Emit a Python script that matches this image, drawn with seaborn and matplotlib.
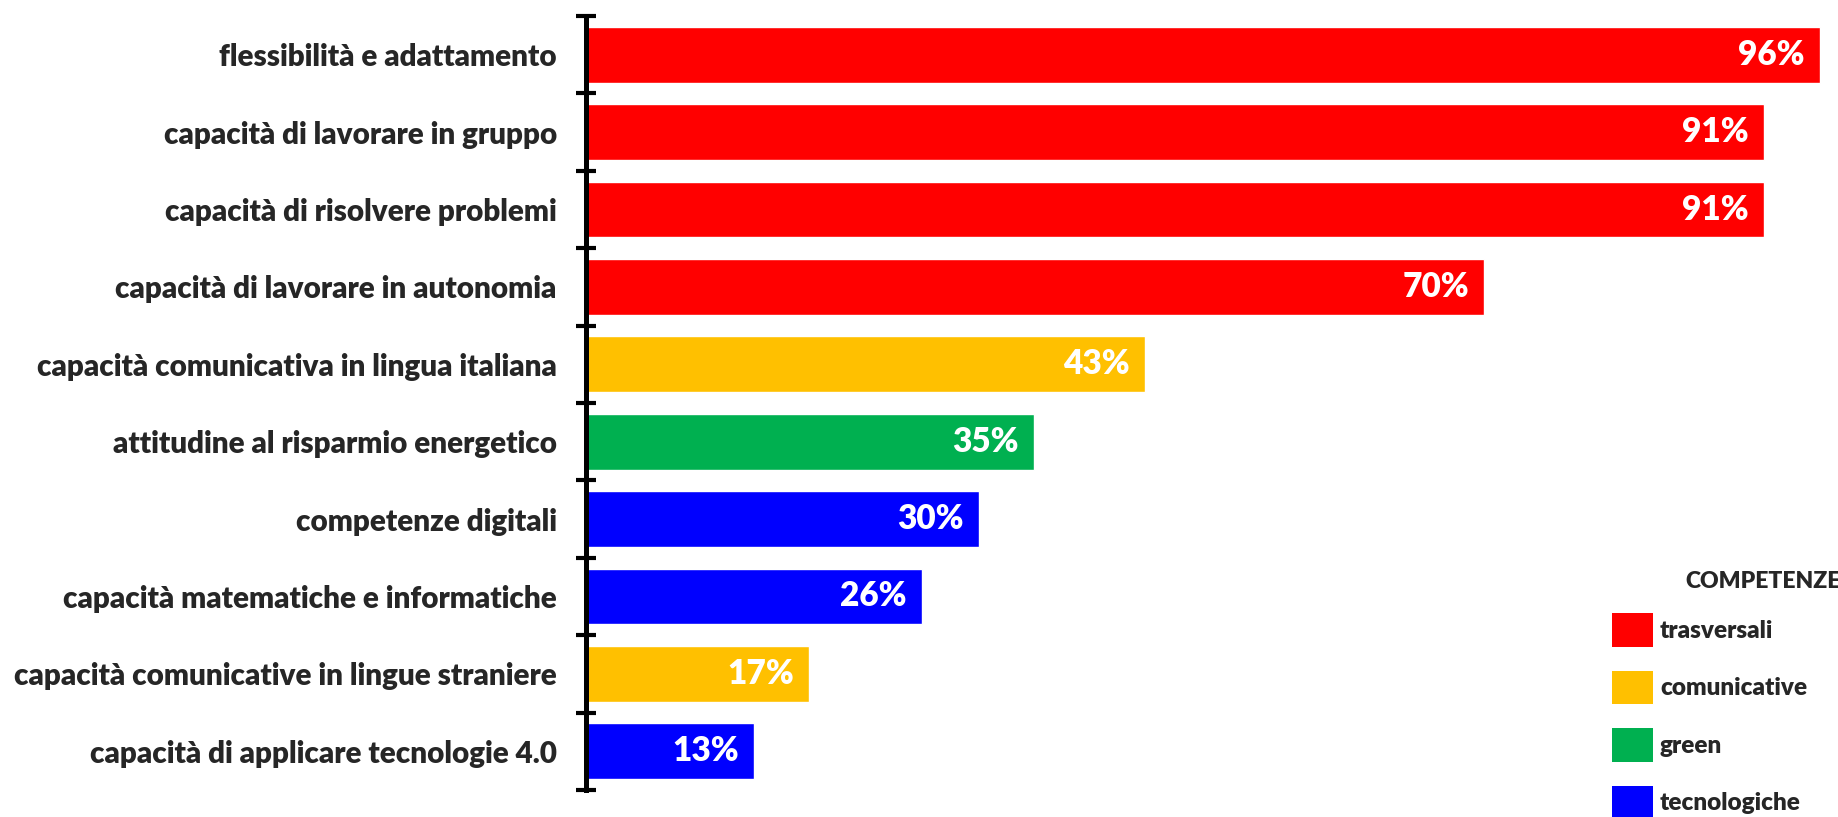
import matplotlib
matplotlib.use("Agg")
import matplotlib.pyplot as plt
from matplotlib.patches import Patch
import pandas as pd
import seaborn as sns

# Data (top to bottom)
skills = [
    "flessibilità e adattamento",
    "capacità di lavorare in gruppo",
    "capacità di risolvere problemi",
    "capacità di lavorare in autonomia",
    "capacità comunicativa in lingua italiana",
    "attitudine al risparmio energetico",
    "competenze digitali",
    "capacità matematiche e informatiche",
    "capacità comunicative in lingue straniere",
    "capacità di applicare tecnologie 4.0",
]
values = [96.2, 91.8, 91.8, 70.0, 43.6, 34.9, 30.6, 26.2, 17.4, 13.1]
value_labels = ["96%", "91%", "91%", "70%", "43%", "35%", "30%", "26%", "17%", "13%"]
groups = ["trasversali", "trasversali", "trasversali", "trasversali", "comunicative",
          "green", "tecnologiche", "tecnologiche", "comunicative", "tecnologiche"]
group_order = ["trasversali", "comunicative", "green", "tecnologiche"]
group_colors = ["#FF0000", "#FFC000", "#00B050", "#0000FF"]

df = pd.DataFrame({"skill": skills, "value": values, "group": groups})
palette = dict(zip(group_order, group_colors))
label_of = dict(zip(skills, value_labels))

sns.set_style("white")
plt.rcParams["font.family"] = ["Lato", "DejaVu Sans"]
plt.rcParams["font.weight"] = "heavy"

W, H = 1838, 817
fig = plt.figure(figsize=(W / 100, H / 100), dpi=100)
x0, y_top, y_bot = 586, 16, 790
ax = fig.add_axes([x0 / W, 1 - y_bot / H, 1 - x0 / W, (y_bot - y_top) / H])

sns.barplot(data=df, x="value", y="skill", hue="group", palette=palette,
            hue_order=group_order, order=skills, dodge=False, width=0.72,
            saturation=1, legend=False, ax=ax)

# ~12.83 px per percent
ax.set_xlim(0, (W - x0) / 12.83)
ax.set_ylim(len(skills) - 0.5, -0.5)

for cont in ax.containers:
    labs = []
    for bar, v in zip(cont.patches, cont.datavalues):
        if v == v and v > 0:
            idx = int(round(bar.get_y() + bar.get_height() / 2))
            labs.append(label_of[skills[idx]])
        else:
            labs.append("")
    texts = ax.bar_label(cont, labels=labs, padding=-11, color="white",
                         fontsize=24, fontweight="heavy")
    for t in texts:
        t.set_ha("right")

ax.set_xlabel("")
ax.set_ylabel("")
ax.set_xticks([])
for s in ["top", "right", "bottom"]:
    ax.spines[s].set_visible(False)
ax.spines["left"].set_linewidth(3.6)
ax.spines["left"].set_color("black")
ax.set_yticks([i - 0.5 for i in range(len(skills) + 1)], minor=False)
ax.set_yticklabels([])
ax.set_yticks(range(len(skills)), minor=True)
ax.set_yticklabels(skills, minor=True, fontsize=21.3, fontweight="heavy")
ax.tick_params(axis="y", which="major", direction="inout", length=14, width=3, color="black", left=True)
ax.tick_params(axis="y", which="minor", length=0, pad=21)

fs = 17.5
fpx = fs * 1.389
handles = [Patch(facecolor=c, edgecolor="none") for c in group_colors]
fig.legend(handles, group_order, loc="upper left",
           bbox_to_anchor=(1612 / W, 1 - 613 / H), bbox_transform=fig.transFigure,
           frameon=False, borderpad=0, borderaxespad=0,
           handlelength=41 / fpx, handleheight=1.75,
           labelspacing=24 / fpx, handletextpad=7 / fpx,
           prop={"weight": "heavy", "size": fs})
fig.text(1685 / W, 1 - 582 / H, "COMPETENZE", ha="left", va="center",
         fontsize=16.5, fontweight="heavy")

fig.savefig("out.png", dpi=100)
